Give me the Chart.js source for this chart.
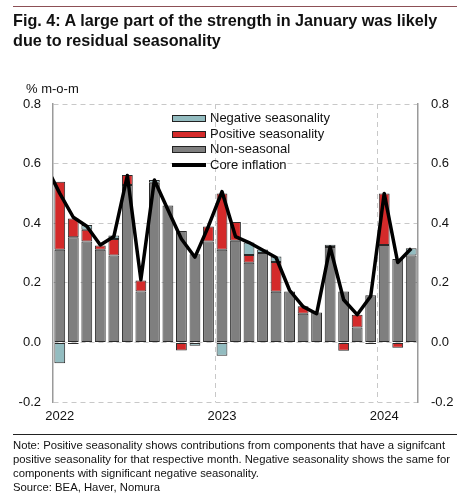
<!DOCTYPE html>
<html>
<head>
<meta charset="utf-8">
<script src="https://cdn.jsdelivr.net/npm/chart.js@4"></script>
<style>
  body { margin: 0; background: #fff; font-family: "Liberation Sans", Arial, sans-serif; color: #111; }
  #wrap { position: relative; width: 471px; height: 500px; overflow: hidden; }
  #chartBox { position: absolute; left: 0; top: 0; width: 471px; height: 500px; }
  .topline { position: absolute; left: 13px; top: 6px; width: 444px; height: 0; border-top: 1.5px solid #8c4f55; }
  .title { position: absolute; left: 13px; top: 10px; width: 450px; font-size: 16.2px; font-weight: bold; line-height: 20px; }
  .unit { position: absolute; left: 26px; top: 81px; font-size: 13px; }
  .legend { position: absolute; left: 172px; top: 110px; font-size: 13px; line-height: 15.5px; }
  .legend div { position: relative; padding-left: 38px; white-space: nowrap; }
  .legend .box { position: absolute; left: 0; top: 5px; width: 32px; height: 5px; border: 1px solid #222; }
  .legend .ln { position: absolute; left: 0; top: 6px; width: 34px; height: 4px; background: #000; }
  .sep { position: absolute; left: 13px; top: 434px; width: 444px; height: 0; border-top: 1.5px solid #222; }
  .note { position: absolute; left: 13px; top: 438px; width: 450px; font-size: 11.3px; line-height: 14px; }
</style>
</head>
<body>
<div id="wrap">
  <div id="chartBox"><canvas id="chart"></canvas></div>
  <div class="topline"></div>
  <div class="title">Fig. 4: A large part of the strength in January was likely due to residual seasonality</div>
  <div class="unit">% m-o-m</div>
  <div class="legend">
    <div><span class="box" style="background:#93bcc0"></span>Negative seasonality</div>
    <div><span class="box" style="background:#d42a2a"></span>Positive seasonality</div>
    <div><span class="box" style="background:#7f7f7f"></span>Non-seasonal</div>
    <div><span class="ln"></span>Core inflation</div>
  </div>
  <div class="sep"></div>
  <div class="note">Note: Positive seasonality shows contributions from components that have a signifcant positive seasonality for that respective month. Negative seasonality shows the same for components with significant negative seasonality.<br>Source: BEA, Haver, Nomura</div>
</div>
<script>
// months Dec 2021 .. Mar 2024 (Dec 2021 sits just off the left edge, only the line reaches it)
const months = ['Dec 2021',
  'Jan 2022', 'Feb 2022', 'Mar 2022', 'Apr 2022', 'May 2022', 'Jun 2022', 'Jul 2022', 'Aug 2022', 'Sep 2022', 'Oct 2022', 'Nov 2022', 'Dec 2022',
  'Jan 2023', 'Feb 2023', 'Mar 2023', 'Apr 2023', 'May 2023', 'Jun 2023', 'Jul 2023', 'Aug 2023', 'Sep 2023', 'Oct 2023', 'Nov 2023', 'Dec 2023',
  'Jan 2024', 'Feb 2024', 'Mar 2024'];

const nonSeasonal = [null,
  0.311, 0.353, 0.339, 0.311, 0.292, 0.528, 0.171, 0.536, 0.459, 0.374, 0.296, 0.339,
  0.311, 0.341, 0.267, 0.300, 0.170, 0.171, 0.096, 0.100, 0.320, 0.171, 0.050, 0.158,
  0.327, 0.280, 0.292];

const positiveSeas = [null,
  0.228, 0.063, 0.039, 0.014, 0.055, 0.034, 0.037, 0, 0, -0.027, 0, 0.050,
  0.189, 0.063, 0.026, 0, 0.100, 0, 0.025, 0, 0, -0.028, 0.043, 0,
  0.173, -0.018, 0];

const negativeSeas = [null,
  -0.070, -0.005, 0.016, 0, 0.012, 0, 0, 0.009, 0, 0, -0.011, 0,
  -0.045, 0, 0.042, 0.012, 0.018, 0, 0, 0, 0.008, 0, 0, -0.005,
  0, 0, 0.024];

const coreInflation = [0.59,
  0.50, 0.42, 0.39, 0.327, 0.355, 0.56, 0.21, 0.545, 0.445, 0.347, 0.286, 0.39,
  0.506, 0.355, 0.335, 0.31, 0.285, 0.175, 0.12, 0.096, 0.32, 0.143, 0.093, 0.155,
  0.50, 0.268, 0.315];

const yTicks = [-0.2, 0, 0.2, 0.4, 0.6, 0.8];

function yearLabel(i) {
  let m = months[i];
  return m && m.startsWith('Jan') ? m.slice(4) : '';
}

const barStyle = {
  type: 'bar',
  stack: 'bars',
  borderColor: '#2a2a2a',
  borderWidth: 1,
  borderSkipped: false,
  barPercentage: 0.8,
  categoryPercentage: 1,
  order: 2
};

function yAxis(position) {
  return {
    type: 'linear',
    position: position,
    stacked: true,
    min: -0.2,
    max: 0.8,
    afterBuildTicks: function (scale) { scale.ticks = yTicks.map(v => ({ value: v })); },
    afterFit: function (scale) { scale.width = 53; },
    grid: {
      display: position === 'left',
      drawTicks: false,
      color: '#c8c8c8',
      lineWidth: 1
    },
    border: { display: true, color: '#9a9a9a', width: 1.5, dash: [5, 4] },
    ticks: {
      padding: position === 'left' ? 12 : 13,
      color: '#111',
      font: { family: 'Liberation Sans', size: 13 },
      callback: v => v.toFixed(1)
    }
  };
}

const ctx = document.getElementById('chart').getContext('2d');
new Chart(ctx, {
  data: {
    labels: months,
    datasets: [
      Object.assign({ label: 'Non-seasonal', data: nonSeasonal, backgroundColor: '#7f7f7f' }, barStyle),
      Object.assign({ label: 'Positive seasonality', data: positiveSeas, backgroundColor: '#d42a2a' }, barStyle),
      Object.assign({ label: 'Negative seasonality', data: negativeSeas, backgroundColor: '#93bcc0' }, barStyle),
      {
        type: 'line',
        label: 'Core inflation',
        data: coreInflation,
        stack: 'line',
        borderColor: '#000',
        borderWidth: 3.5,
        pointRadius: 0,
        tension: 0,
        borderJoinStyle: 'round',
        order: 1
      }
    ]
  },
  options: {
    responsive: true,
    maintainAspectRatio: false,
    animation: false,
    layout: { padding: { top: 104, left: 0, right: 0, bottom: 78 } },
    plugins: { legend: { display: false }, tooltip: { enabled: false } },
    scales: {
      x: {
        type: 'category',
        stacked: true,
        min: 'Jan 2022',
        afterFit: function (scale) { scale.height = 20; },
        grid: {
          offset: true,
          drawTicks: false,
          color: c => (c.tick && months[c.tick.value] && months[c.tick.value].startsWith('Jan') && c.tick.value > 1) ? '#c8c8c8' : 'rgba(0,0,0,0)'
        },
        border: { display: false, dash: [5, 4] },
        ticks: {
          autoSkip: false,
          maxRotation: 0,
          padding: 7,
          color: '#111',
          font: { family: 'Liberation Sans', size: 13 },
          callback: function (value) { return yearLabel(value); }
        }
      },
      y: yAxis('left'),
      y2: yAxis('right')
    }
  }
});
</script>
</body>
</html>
